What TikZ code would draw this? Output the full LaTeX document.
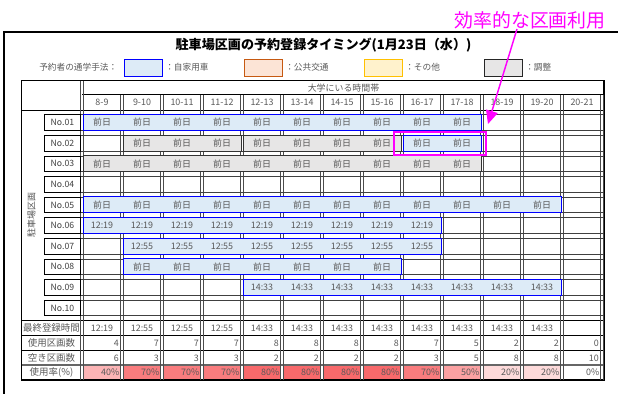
\documentclass[tikz,border=0pt]{standalone}
\usepackage{fontspec}
\setmainfont{Noto Sans CJK JP}
\usetikzlibrary{arrows.meta}
\definecolor{txt}{HTML}{595959}
\definecolor{lbl}{HTML}{404040}
\definecolor{barblue}{HTML}{DDEBF7}
\definecolor{bargray}{HTML}{E7E6E6}
\definecolor{legor}{HTML}{FCE4D6}
\definecolor{legorb}{HTML}{C65911}
\definecolor{legye}{HTML}{FFF2CC}
\definecolor{legyeb}{HTML}{FFC000}
\definecolor{mag}{HTML}{FF00FF}
\definecolor{p0}{HTML}{FFFFFF}
\definecolor{p20}{HTML}{FDDADA}
\definecolor{p40}{HTML}{FCB4B5}
\definecolor{p50}{HTML}{FBA1A2}
\definecolor{p70}{HTML}{F97C7E}
\definecolor{p80}{HTML}{F8696B}
\newcommand\slotbar[5]{%
  \pgfmathsetmacro\cy{122.5+20.6*#1}%
  \pgfmathsetmacro\xa{82+40*#2+1.2}%
  \pgfmathsetmacro\xb{82+40*(#3+1)-0.3}%
  \draw[#4] (\xa,\cy-8) rectangle (\xb,\cy+8);%
  \foreach \k in {#2,...,#3} {%
    \pgfmathsetmacro\cx{102+40*\k}%
    \node[tt] (b#1-\k) at (\cx,\cy) {#5};}%
}
\begin{document}
\begin{tikzpicture}[x=0.75pt,y=-0.75pt,
  tt/.style={font=\fontsize{6.7}{7}\selectfont, text=txt, inner sep=0pt},
  st/.style={font=\fontsize{7.1}{8}\selectfont, text=txt, inner sep=0pt},
  lt/.style={font=\fontsize{6.5}{7}\selectfont, text=lbl, inner sep=0pt},
  bluebar/.style={fill=barblue, draw=blue, line width=0.7pt},
  graybar/.style={fill=bargray, draw=black!80, line width=0.5pt},
  gridline/.style={draw=black, line width=0.5pt},
  dbl/.style={draw=black!70, line width=0.5pt},
  legbox/.style={line width=0.75pt}]
\useasboundingbox (0,0) rectangle (618,394);
% frame
\draw[line width=1pt] (618,32) -- (4,32) -- (4,394);
% title
\node[font=\bfseries\fontsize{9.8}{11}\selectfont, inner sep=0pt] (title) at (323.5,45) {駐車場区画の予約登録タイミング(1月23日（水）)};
% legend
\node[font=\fontsize{6.5}{7}\selectfont, text=txt, inner sep=0pt, anchor=west] (legt) at (39,67.5) {予約者の通学手法：};
\draw[legbox, fill=barblue, draw=blue] (124,59) rectangle (162,76);
\node[font=\fontsize{6.5}{7}\selectfont, text=txt, inner sep=0pt, anchor=west] (leg1) at (165,67.5) {：自家用車};
\draw[legbox, fill=legor, draw=legorb] (244,59) rectangle (282,76);
\node[font=\fontsize{6.5}{7}\selectfont, text=txt, inner sep=0pt, anchor=west] (leg2) at (285,67.5) {：公共交通};
\draw[legbox, fill=legye, draw=legyeb] (364,59) rectangle (402,76);
\node[font=\fontsize{6.5}{7}\selectfont, text=txt, inner sep=0pt, anchor=west] (leg3) at (405,67.5) {：その他};
\draw[legbox, fill=bargray, draw=black!85] (484,59) rectangle (522,76);
\node[font=\fontsize{6.5}{7}\selectfont, text=txt, inner sep=0pt, anchor=west] (leg4) at (525,67.5) {：調整};
% percent fills
\foreach \c [count=\k from 0] in {p40,p70,p70,p70,p80,p80,p80,p80,p70,p50,p20,p20,p0} {
  \fill[\c] (82+40*\k+1.2,365.5) rectangle (82+40*\k+40-1.2,379.5);
}
% table outer
\draw[gridline, line width=0.8pt] (21.5,80.5) rectangle (604,380);
\draw[gridline] (82,94.5) -- (604,94.5);
\draw[gridline] (21.5,110) -- (604,110);
\draw[gridline] (21.5,320.5) -- (604,320.5);
\draw[gridline] (21.5,335.5) -- (604,335.5);
\draw[gridline] (21.5,350.5) -- (604,350.5);
\draw[draw=black!60, line width=1.1pt] (21.5,365) -- (604,365);
% vertical double lines
\draw[dbl] (80.8,80.5) -- (80.8,380);
\draw[dbl] (83.2,80.5) -- (83.2,380);
\foreach \k in {1,...,13} {
  \draw[dbl] (82+40*\k-1.2,94.5) -- (82+40*\k-1.2,380);
  \draw[dbl] (82+40*\k+1.2,94.5) -- (82+40*\k+1.2,380);
}
% slot rows
\foreach \i in {0,...,9} {
  \pgfmathsetmacro\cy{122.5+20.6*\i}
  \draw[draw=black!75, line width=0.45pt] (81,\cy-7.8) -- (604,\cy-7.8);
  \draw[draw=black!75, line width=0.45pt] (81,\cy+7.8) -- (604,\cy+7.8);
  \draw[draw=black, line width=0.6pt, fill=white] (44,\cy-7.8) rectangle (80.8,\cy+7.8);
}
\foreach \n [count=\i from 0] in {01,02,03,04,05,06,07,08,09,10} {
  \pgfmathsetmacro\cy{122.5+20.6*\i}
  \node[lt] (no\n) at (62.4,\cy) {No.\n};
}
% headers
\node[tt] (hdr) at (343.5,88) {大学にいる時間帯};
\foreach \t [count=\k from 0] in {8-9,9-10,10-11,11-12,12-13,13-14,14-15,15-16,16-17,17-18,18-19,19-20,20-21} {
  \node[tt] (t\k) at (102+40*\k,102) {\t};
}
\node[tt, rotate=90] (area) at (31.5,215) {駐車場区画};
% bars
\slotbar{0}{0}{9}{bluebar}{前日}
\slotbar{1}{1}{3}{graybar}{前日}
\slotbar{1}{4}{7}{graybar}{前日}
\slotbar{1}{8}{9}{bluebar}{前日}
\slotbar{2}{0}{9}{graybar}{前日}
\slotbar{4}{0}{11}{bluebar}{前日}
\slotbar{5}{0}{8}{bluebar}{12:19}
\slotbar{6}{1}{8}{bluebar}{12:55}
\slotbar{7}{1}{7}{bluebar}{前日}
\slotbar{8}{4}{11}{bluebar}{14:33}
% stats labels
\node[st] (s1) at (51.5,328) {最終登録時間};
\node[st] (s2) at (51.5,343) {使用区画数};
\node[st] (s3) at (51.5,358) {空き区画数};
\node[st] (s4) at (51.5,372.5) {使用率(\%)};
\foreach \v [count=\k from 0] in {12:19,12:55,12:55,12:55,14:33,14:33,14:33,14:33,14:33,14:33,14:33,14:33} {
  \node[tt] (last\k) at (102+40*\k,328) {\v};
}
\foreach \v [count=\k from 0] in {4,7,7,7,8,8,8,8,7,5,2,2,0} {
  \node[tt, anchor=east] (use\k) at (82+40*\k+37,343) {\v};
}
\foreach \v [count=\k from 0] in {6,3,3,3,2,2,2,2,3,5,8,8,10} {
  \node[tt, anchor=east] (free\k) at (82+40*\k+37,358) {\v};
}
\foreach \v [count=\k from 0] in {40,70,70,70,80,80,80,80,70,50,20,20,0} {
  \node[tt, anchor=east] (rate\k) at (82+40*\k+37.5,372.5) {\v\%};
}
% annotation
\draw[mag, line width=1.5pt] (394,132) rectangle (486,155);
\node[text=mag, font=\fontsize{14.2}{16}\selectfont, inner sep=0pt] (note) at (530,20) {効率的な区画利用};
\coordinate (arrs) at (517,29);
\coordinate (arrt) at (488,124);
\draw[mag, line width=1.1pt, -{Triangle[length=10pt,width=9pt]}] (arrs) -- (arrt);
\end{tikzpicture}
\end{document}
